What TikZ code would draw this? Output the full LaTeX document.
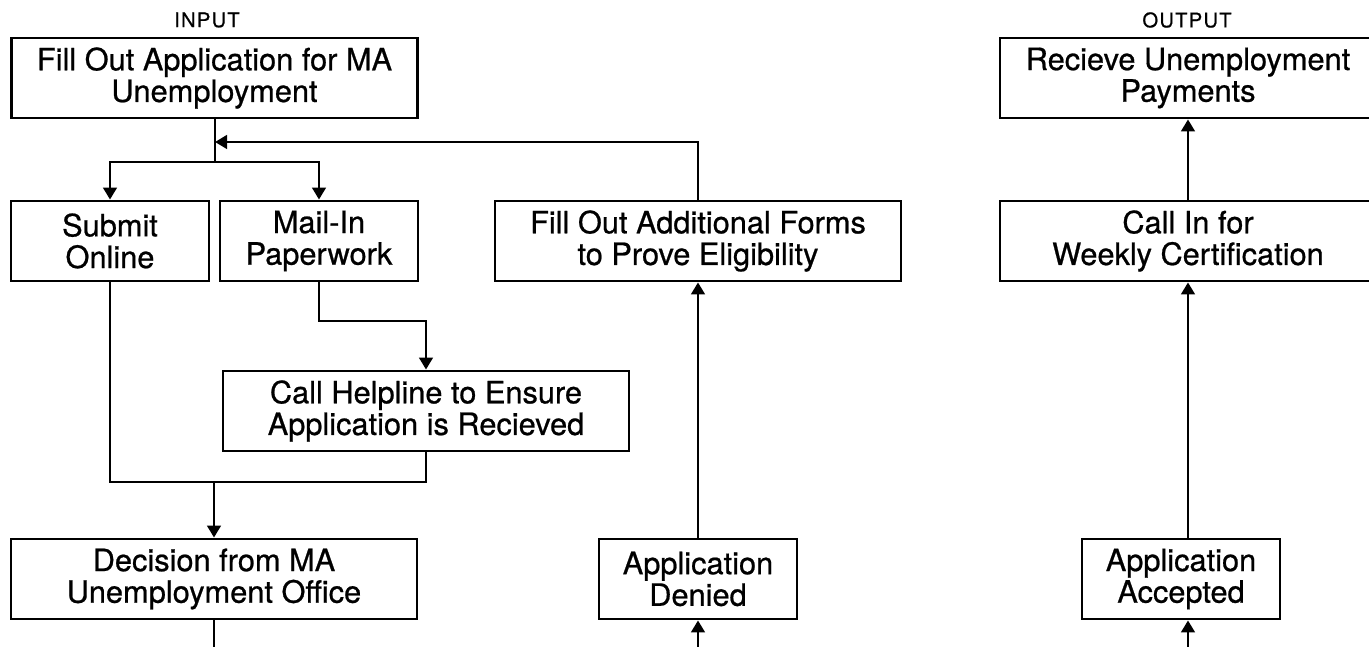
\documentclass[tikz,border=0pt]{standalone}
\usepackage{fontspec}
\setmainfont{TeX Gyre Heros}
\newfontfamily\boxfont[FakeBold=0.7]{TeX Gyre Heros}
\newfontfamily\tagfont[LetterSpace=6,FakeBold=0.7]{TeX Gyre Heros}
\usetikzlibrary{arrows.meta}
\begin{document}
\begin{tikzpicture}[
  box/.style={draw, line width=1.6pt, align=center, minimum height=1.6cm, inner sep=0pt, font=\boxfont\fontsize{17.5}{18}\selectfont},
  widebox/.style={box, minimum width=8.12cm},
  narrowbox/.style={box, minimum width=3.96cm},
  tag/.style={font=\tagfont\fontsize{11.5}{13}\selectfont},
  link/.style={line width=1.6pt},
  flow/.style={link, -{Triangle[length=0.24cm,width=0.27cm]}}
]
\clip (0,0) rectangle (27.38,12.94);
\node[tag] (input) at (4.14,12.54) {INPUT};
\node[tag] (output) at (23.74,12.54) {OUTPUT};
\node[widebox] (fillapp) at (4.29,11.38) {Fill Out Application for MA\\Unemployment};
\node[widebox, minimum width=7.52cm] (receive) at (23.76,11.38) {Recieve Unemployment\\Payments};
\node[narrowbox] (online) at (2.20,8.12) {Submit\\Online};
\node[narrowbox] (mailin) at (6.38,8.12) {Mail-In\\Paperwork};
\node[widebox] (forms) at (13.96,8.12) {Fill Out Additional Forms\\to Prove Eligibility};
\node[widebox, minimum width=7.52cm] (certify) at (23.76,8.12) {Call In for\\Weekly Certification};
\node[widebox] (helpline) at (8.52,4.72) {Call Helpline to Ensure\\Application is Recieved};
\node[widebox] (decision) at (4.28,1.36) {Decision from MA\\Unemployment Office};
\node[narrowbox] (denied) at (13.96,1.36) {Application\\Denied};
\node[narrowbox] (accepted) at (23.62,1.36) {Application\\Accepted};
\coordinate (split) at (4.30,9.70);
\coordinate (rejoin) at (4.30,10.10);
\coordinate (jog) at (6.38,6.52);
\coordinate (merge) at (4.28,3.30);
\coordinate (decisionout) at (4.28,-0.5);
\coordinate (deniedin) at (13.96,-0.5);
\coordinate (acceptedin) at (23.76,-0.5);
\draw[link] (fillapp.south -| split) -- (split);
\draw[flow] (split) -| (online.north);
\draw[flow] (split) -| (mailin.north);
\draw[flow] (forms.north) |- (rejoin);
\draw[flow] (mailin.south) -- (jog) -| (helpline.north);
\draw[link] (online.south) |- (merge) -| (helpline.south);
\draw[flow] (merge) -- (decision.north);
\draw[link] (decision.south) -- (decisionout);
\draw[flow] (deniedin) -- (denied.south);
\draw[flow] (denied.north) -- (forms.south);
\draw[flow] (acceptedin) -- (certify.south |- accepted.south);
\draw[flow] (certify.south |- accepted.north) -- (certify.south);
\draw[flow] (certify.north) -- (receive.south);
\end{tikzpicture}
\end{document}
